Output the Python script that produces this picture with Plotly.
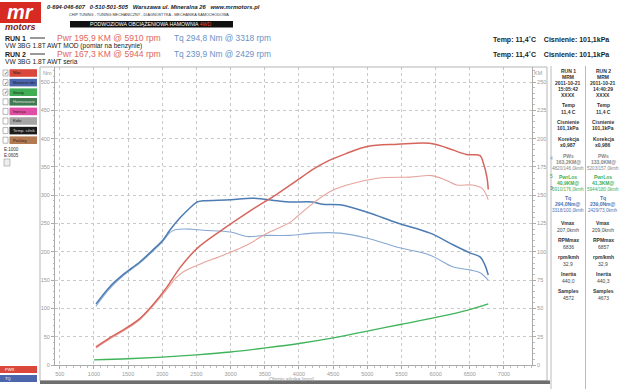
import plotly.graph_objects as go

# ---------------- data ----------------
rpm_tq1 = [1030, 1230, 1430, 1670, 1860, 2010, 2110, 2260, 2400, 2510, 2600, 3000, 3320,
           3680, 3870, 4200, 4350, 4600, 5000, 5440, 5920, 6260, 6500, 6650, 6720, 6770]
tq1 = [108, 138, 160, 182, 203, 221, 238, 260, 277, 288, 290, 292, 294.8,
       290, 288, 288, 284, 283, 270, 251, 233, 212, 198, 191, 177, 159]

rpm_tq2 = [1030, 1230, 1430, 1670, 1860, 2010, 2110, 2190, 2430, 2600, 3000, 3240, 3520,
           3870, 4200, 4600, 5000, 5440, 5920, 6260, 6500, 6650, 6770]
tq2 = [104, 135, 158, 180, 201, 219, 234, 239, 239.9, 238, 235, 227, 229,
       229, 233, 233, 224, 208, 194, 173, 168, 163, 150]

rpm_pw1 = [1030, 1230, 1430, 1670, 1860, 2070, 2260, 2510, 2890, 3280, 3680, 3970, 4210,
           4450, 4700, 5000, 5440, 5910, 6160, 6450, 6650, 6700, 6750, 6770]
pw1 = [16, 24, 31, 41, 53, 69, 86, 103, 120, 136, 151, 163, 173,
       181, 187, 193, 195, 195.9, 192, 186, 185, 178, 166, 155]

rpm_pw2 = [1030, 1230, 1430, 1670, 1860, 2070, 2200, 2300, 2550, 2890, 3240, 3520, 3870,
           3970, 4210, 4450, 4700, 5150, 5630, 5944, 6160, 6310, 6540, 6680, 6770]
pw2 = [15, 23, 30, 40, 52, 67, 77, 82, 89, 97, 106, 116, 126,
       131, 143, 153, 159, 165, 166, 167.3, 163, 159, 159, 156, 146]

rpm_loss = [1000, 1500, 2000, 2500, 3000, 3500, 4000, 4500, 5000, 5500, 6000, 6500, 6770]
loss = [4.5, 5.5, 7, 9, 11.5, 15, 19, 24, 30, 36, 42, 49, 54]

x_ticks = list(range(500, 7001, 500))
nm_ticks = list(range(0, 501, 50))
km_ticks = list(range(0, 251, 25))

legend_items = ["Moc", "Moment obr.", "Straty", "Hamowanie", "Inercja", "Koła", "Temp. silnik", "Poślizg"]
legend_cols = ["#d9483b", "#4b66ad", "#3fae55", "#3f7a50", "#e04ea6", "#a5a5a5", "#1c1c1c", "#b37a52"]
legend_checked = [True, True, True, False, False, False, False, False]

run1_info = ["RUN 1", "MRM", "2011-10-21", "15:05:42", "XXXX", "", "Temp", "11,4 C", "", "Cisnienie", "101,1kPa", "",
             "Korekcja", "x0,987"]
run2_info = ["RUN 2", "MRM", "2011-10-21", "14:40:29", "XXXX", "", "Temp", "11,4 C", "", "Cisnienie", "101,1kPa", "",
             "Korekcja", "x0,986"]
run1_stats = [("PWs", "163,2KM@", "4820/146,0kmh"), ("PwrLos", "40,9KM@", "5910/176,0kmh"),
              ("Tq", "294,0Nm@", "3318/100,0kmh")]
run2_stats = [("PWs", "133,0KM@", "5203/157,0kmh"), ("PwrLos", "41,3KM@", "5944/180,0kmh"),
              ("Tq", "239,0Nm@", "2429/73,0kmh")]
run1_tail = [("Vmax", "207,0kmh"), ("RPMmax", "6836"), ("rpm/kmh", "32,9"), ("Inertia", "440,0"), ("Samples", "4572")]
run2_tail = [("Vmax", "209,0kmh"), ("RPMmax", "6857"), ("rpm/kmh", "32,9"), ("Inertia", "440,3"), ("Samples", "4673")]

# ---------------- layout geometry ----------------
W, H = 620, 389
ML, MR, MT, MB = 55, 88, 67, 24
PW = W - ML - MR
PH = H - MT - MB
NM_PER_PX = 1 / 0.566
NM_TOP = PH * NM_PER_PX


def px(x):
    return (x - ML) / PW


def py(y):
    return (H - MB - y) / PH


FONT = "Liberation Sans, Arial, sans-serif"
annotations = []
shapes = []


def txt(x, y, s, size=6, color="#333", xa="left", ya="middle", bold=False, italic=False):
    if bold:
        s = "<b>" + s + "</b>"
    if italic:
        s = "<i>" + s + "</i>"
    annotations.append(dict(x=px(x), y=py(y), xref="paper", yref="paper", text=s, showarrow=False,
                            xanchor=xa, yanchor=ya, font=dict(family=FONT, size=size, color=color)))


def rect(x0, y0, x1, y1, fill=None, line=None, lw=1):
    shapes.append(dict(type="rect", xref="paper", yref="paper", x0=px(x0), x1=px(x1), y0=py(y1), y1=py(y0),
                       fillcolor=fill if fill else "rgba(0,0,0,0)",
                       line=dict(color=line if line else "rgba(0,0,0,0)", width=lw if line else 0), layer="above"))


def hline(x0, x1, y, color, w=1):
    shapes.append(dict(type="line", xref="paper", yref="paper", x0=px(x0), x1=px(x1), y0=py(y), y1=py(y),
                       line=dict(color=color, width=w)))


def vline(x, y0, y1, color, w=1):
    shapes.append(dict(type="line", xref="paper", yref="paper", x0=px(x), x1=px(x), y0=py(y0), y1=py(y1),
                       line=dict(color=color, width=w)))


# ---------------- figure ----------------
fig = go.Figure()
fig.add_trace(go.Scatter(x=rpm_loss, y=loss, yaxis="y2", mode="lines",
                         line=dict(color="#3fb45a", width=1.3, shape="spline"), showlegend=False))
fig.add_trace(go.Scatter(x=rpm_pw2, y=pw2, yaxis="y2", mode="lines",
                         line=dict(color="#e6a39b", width=1.1, shape="spline"), showlegend=False))
fig.add_trace(go.Scatter(x=rpm_tq2, y=tq2, mode="lines",
                         line=dict(color="#86a8d2", width=1.1, shape="spline"), showlegend=False))
fig.add_trace(go.Scatter(x=rpm_pw1, y=pw1, yaxis="y2", mode="lines",
                         line=dict(color="#d6655c", width=1.5, shape="spline"), showlegend=False))
fig.add_trace(go.Scatter(x=rpm_tq1, y=tq1, mode="lines",
                         line=dict(color="#4d7bb3", width=1.5, shape="spline"), showlegend=False))

# header / logo
rect(0, 2, 41, 23, fill="#d62a22")
txt(20, 12, "mr", size=20, color="white", xa="center", bold=True, italic=True)
txt(20, 27, "motors", size=9, color="#7a1a14", xa="center", bold=True, italic=True)
txt(45, 7, "0-694-046-607   0-510-501-505   Warszawa ul. Mineralna 26   www.mrmotors.pl",
    size=5.8, color="#222", bold=True, italic=True)
txt(149, 15, "CHIP TUNING - TUNING MECHANICZNY - DIAGNOSTYKA - MECHANIKA SAMOCHODOWA", size=3.8,
    color="#333", xa="center")
rect(70, 21, 233, 27.5, fill="#111")
txt(151, 24.3, "PODWOZIOWA OBCIĄŻENIOWA HAMOWNIA <span style='color:#e84a3a'>4WD</span>",
    size=5.2, color="white", xa="center")

txt(3, 38, "RUN 1", size=7, color="#222", bold=True)
hline(30, 45, 38, "#333", 1)
txt(55, 38, "Pwr 195,9 KM @ 5910 rpm", size=8.6, color="#e0655c")
txt(172, 38, "Tq 294,8 Nm @ 3318 rpm", size=8.4, color="#6a92c8")
txt(3, 45.5, "VW 3BG 1.8T AWT MOD (pomiar na benzynie)", size=6.6, color="#222")
txt(3, 54, "RUN 2", size=7, color="#222", bold=True)
hline(30, 45, 54, "#333", 1)
txt(55, 54, "Pwr 167,3 KM @ 5944 rpm", size=8.6, color="#e0655c")
txt(172, 54, "Tq 239,9 Nm @ 2429 rpm", size=8.4, color="#6a92c8")
txt(3, 61.5, "VW 3BG 1.8T AWT seria", size=6.6, color="#222")
txt(611, 40, "Temp: 11,4˚C    Cisnienie: 101,1kPa", size=7, color="#222", xa="right", bold=True)
txt(611, 55, "Temp: 11,4˚C    Cisnienie: 101,1kPa", size=7, color="#222", xa="right", bold=True)

# chart frame
rect(40, 67, 547, 381, line="#b5b5b5", lw=1)
rect(40, 380.5, 550, 384, fill="#6e6e6e")

# left check panel
for i, (lab, col, chk) in enumerate(zip(legend_items, legend_cols, legend_checked)):
    yc = 73 + i * 9.6
    rect(3, yc - 3, 8, yc + 3, fill="white", line="#888", lw=0.6)
    if chk:
        txt(5.5, yc, "✓", size=5, color="#222", xa="center")
    rect(9.5, yc - 3.8, 37, yc + 3.8, fill=col)
    txt(11, yc, lab, size=4.2, color="#222" if col not in ("#1c1c1c", "#3f7a50") else "#ddd")
txt(2, 149, "E:1000", size=4.5, color="#333")
txt(2, 155, "E:0605", size=4.5, color="#333")
rect(4, 159, 10, 166, fill="#eee", line="#999", lw=0.6)

# bottom-left buttons
rect(0, 366, 37, 373, fill="#d9483b")
txt(3, 369.5, "PWR", size=4, color="white")
rect(0, 375, 37, 382, fill="#4b66ad")
txt(3, 378.5, "TQ", size=4, color="white")

# axis labels
txt(47, 73, "Nm", size=5.5, color="#999", xa="center")
txt(538, 73, "KM", size=5.5, color="#999", xa="center")
txt(316, 378.5, "Obroty silnika [rpm]", size=5.2, color="#999", xa="right")
txt(548, 158, "4", size=5, color="#999")
txt(548, 176, "5", size=5, color="#3fae55")
txt(548, 188, "3", size=5, color="#4b66ad")

# right info panel
vline(551, 66, 389, "#bbb")
vline(585.5, 66, 389, "#bbb")
for colx, info, stats, tail in ((568, run1_info, run1_stats, run1_tail), (603, run2_info, run2_stats, run2_tail)):
    y = 71
    for s in info:
        if s:
            txt(colx, y, s, size=5, color="#333", xa="center", bold=True)
            y += 6
        else:
            y += 4.5
    y = 156
    for (a, b, c), col in zip(stats, ("#888", "#3fae55", "#4b73b8")):
        txt(colx, y, a, size=5, color=col, xa="center", bold=True)
        txt(colx, y + 6, b, size=5, color=col, xa="center", bold=True)
        txt(colx, y + 12, c, size=4.6, color=col, xa="center")
        y += 21
    y = 223
    for a, b in tail:
        txt(colx, y, a, size=5, color="#333", xa="center", bold=True)
        txt(colx, y + 7, b, size=5, color="#444", xa="center")
        y += 17

grid = dict(showgrid=True, gridcolor="#c9c9c9", griddash="dot", gridwidth=1)
fig.update_layout(
    width=W, height=H, autosize=False,
    margin=dict(l=ML, r=MR, t=MT, b=MB, pad=0),
    paper_bgcolor="white", plot_bgcolor="white",
    font=dict(family=FONT),
    showlegend=False,
    xaxis=dict(range=[430, 7410], tickvals=x_ticks, **grid, zeroline=False, automargin=False,
               showline=True, linecolor="#aaa", linewidth=1, ticks="outside", ticklen=3, tickcolor="#aaa",
               tickfont=dict(size=5.5, color="#999"),
               minor=dict(dtick=100, ticks="outside", ticklen=1.5, tickcolor="#bbb")),
    yaxis=dict(range=[0, NM_TOP], tickvals=nm_ticks, **grid, zeroline=False, automargin=False,
               showline=True, linecolor="#aaa", linewidth=1, ticks="outside", ticklen=3, tickcolor="#aaa",
               tickfont=dict(size=5.5, color="#999"),
               minor=dict(dtick=10, ticks="outside", ticklen=1.5, tickcolor="#bbb")),
    yaxis2=dict(range=[0, NM_TOP / 2], tickvals=km_ticks, overlaying="y", side="right", showgrid=False,
                zeroline=False, automargin=False, showline=True, linecolor="#aaa", linewidth=1,
                ticks="outside", ticklen=3,
                tickcolor="#aaa", tickfont=dict(size=5.5, color="#999"),
                minor=dict(dtick=5, ticks="outside", ticklen=1.5, tickcolor="#bbb")),
    annotations=annotations,
    shapes=shapes,
)

fig.write_html("out.html", config={"displayModeBar": False},
               post_script="document.body.style.margin='0';document.body.style.padding='0';")
